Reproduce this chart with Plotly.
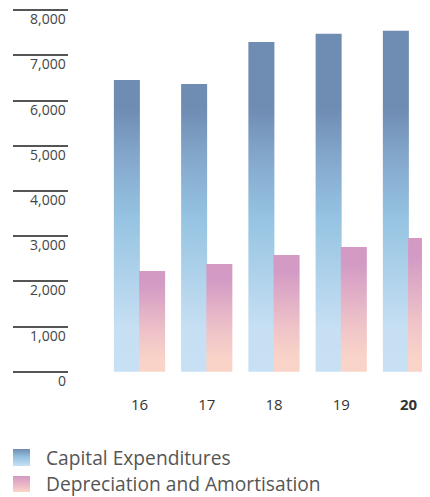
import plotly.graph_objects as go

years = ['16', '17', '18', '19', '20']
capex = [6460, 6370, 7300, 7480, 7550]
dep_amort = [2230, 2385, 2585, 2760, 2960]
y_ticks = [0, 1000, 2000, 3000, 4000, 5000, 6000, 7000, 8000]
legend_names = ['Capital Expenditures', 'Depreciation and Amortisation']

FONT = 'Open Sans'
BAR_W = 0.387

capex_scale = [[0, '#c8e0f4'], [0.12, '#c6dff3'], [0.42, '#96c4e2'],
               [0.59, '#84a8cc'], [0.73, '#6f8cb3'], [1, '#6f8cb3']]
dep_scale = [[0, '#fad4c8'], [0.12, '#f9d3c8'], [0.38, '#efc3c8'],
             [0.87, '#d29ac5'], [1, '#d49ac4']]
# legend swatches are drawn on a helper axis measured in pixels from the bottom
swatch_scales = [[[0, '#c8e0f4'], [0.5, '#96c4e2'], [1, '#6f8cb3']],
                 [[0, '#fad4c8'], [0.5, '#e9b4c6'], [1, '#d49ac4']]]
swatch_rows = [(31, 48), (5, 21)]


def box_trace(x0, x1, y0, y1, scale, start, stop, xa='x', ya='y'):
    return go.Scatter(x=[x0, x0, x1, x1, x0], y=[y0, y1, y1, y0, y0],
                      xaxis=xa, yaxis=ya,
                      mode='lines', fill='toself', line=dict(width=0),
                      fillgradient=dict(type='vertical', colorscale=scale, start=start, stop=stop),
                      showlegend=False, hoverinfo='skip')


fig = go.Figure()
for i, v in enumerate(capex):
    x0 = i - BAR_W + 0.006
    fig.add_trace(box_trace(x0, x0 + BAR_W, 0, v, capex_scale, 0, 8000))
for i, v in enumerate(dep_amort):
    x0 = i - 0.006
    fig.add_trace(box_trace(x0, x0 + BAR_W, 0, v, dep_scale, 0, v))

# legend
for (b, t), scale, name in zip(swatch_rows, swatch_scales, legend_names):
    fig.add_trace(box_trace(13, 30, b, t, scale, b, t, 'x2', 'y2'))
    fig.add_annotation(x=44, y=(b + t) / 2, xref='x2', yref='y2', text=name,
                       showarrow=False, xanchor='left', yanchor='middle',
                       font=dict(family=FONT, size=19.2, color='#555'))

# y labels sit under the short tick lines
for t in y_ticks:
    fig.add_annotation(x=0.132, y=t, xref='paper', yref='y', text=f'{t:,}',
                       showarrow=False, xanchor='right', yanchor='top', yshift=3,
                       font=dict(family=FONT, size=14, color='#444'))

# page body adds an 8px margin, so the figure is 8px smaller than the window
fig.update_layout(
    width=422, height=489,
    margin=dict(l=5, r=0, t=0, b=0, autoexpand=False),
    plot_bgcolor='white', paper_bgcolor='white',
    showlegend=False,
    xaxis=dict(range=[-1.881, 4.32], tickvals=list(range(len(years))),
               ticktext=years[:-1] + ['<b>' + years[-1] + '</b>'],
               showgrid=False, zeroline=False, showline=False,
               ticks='outside', ticklen=14, tickcolor='rgba(0,0,0,0)',
               tickfont=dict(family=FONT, size=15, color='#333')),
    yaxis=dict(domain=[0.2454, 1], range=[-117, 8051], tickvals=y_ticks,
               showticklabels=False, showgrid=False, zeroline=False, showline=False,
               ticks='inside', ticklen=55, tickwidth=1.5, tickcolor='#555'),
    xaxis2=dict(domain=[0, 1], range=[13, 430], anchor='y2', visible=False),
    yaxis2=dict(domain=[0, 0.2454], range=[0, 120], anchor='x2', visible=False),
)

fig.write_html('out.html')
